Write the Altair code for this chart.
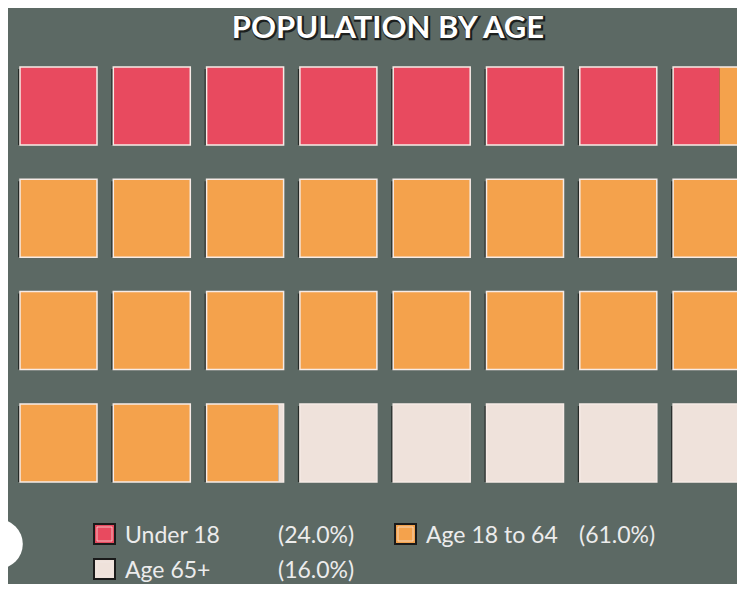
import altair as alt
import pandas as pd

# ---------------- data ----------------
TITLE = "POPULATION BY AGE"
categories = ["Under 18", "Age 18 to 64", "Age 65+"]
percents = [24.0, 61.0, 16.0]
colors = ["#e84a5f", "#f4a24c", "#efe2db"]

N_COLS = 8
N_ROWS = 4
N = N_COLS * N_ROWS

# ---------------- layout ----------------
W, H = 729, 576
PITCH_X, PITCH_Y = 93.3, 112.3
SQ_W, SQ_H = 77.0, 78.0
LEFT, TOP = 12.0, 59.0
fx = SQ_W / PITCH_X
fy = SQ_H / PITCH_Y

total = sum(percents)
bounds = []
acc = 0.0
for p in percents:
    a = acc
    acc += p / total * N
    bounds.append((a, acc))

seg_rows, sq_rows = [], []
for k in range(N):
    r, c = divmod(k, N_COLS)
    sq_rows.append(dict(x=c, x2=c + fx, y=r, y2=r + fy))
    for cat, (a, b) in zip(categories, bounds):
        lo, hi = max(a, k), min(b, k + 1)
        if hi > lo:
            seg_rows.append(dict(cat=cat, x=c + (lo - k) * fx, x2=c + (hi - k) * fx,
                                 y=r, y2=r + fy))
sq = pd.DataFrame(sq_rows)
seg = pd.DataFrame(seg_rows)

xs = alt.Scale(domain=[-LEFT / PITCH_X, (W - LEFT) / PITCH_X], nice=False, zero=False)
ys = alt.Scale(domain=[-TOP / PITCH_Y, (H - TOP) / PITCH_Y], nice=False, zero=False, reverse=True)
cs = alt.Scale(domain=categories, range=colors)

def enc(ch):
    return ch.encode(
        x=alt.X("x:Q", scale=xs, axis=None), x2="x2:Q",
        y=alt.Y("y:Q", scale=ys, axis=None), y2="y2:Q",
    )

shadow = enc(alt.Chart(sq).mark_rect(color="#262b28", xOffset=-2, yOffset=2, clip=True))
fill = enc(alt.Chart(seg).mark_rect(clip=True)).encode(
    color=alt.Color("cat:N", scale=cs, legend=None))
outline = enc(alt.Chart(sq).mark_rect(filled=False, stroke="#f6ebe6", strokeWidth=1.5, clip=True))

# ---------------- title ----------------
tdf = pd.DataFrame({"t": [TITLE]})
title_sh = alt.Chart(tdf).mark_text(font="Lato", fontSize=31, fontWeight="bold", color="#1c201e",
                                    stroke="#1c201e", strokeWidth=2.5, align="center",
                                    baseline="alphabetic", dx=1, dy=1).encode(
    x=alt.value(380), y=alt.value(30), text="t:N")
title = alt.Chart(tdf).mark_text(font="Lato", fontSize=31, fontWeight="bold", color="#ffffff",
                                 align="center", baseline="alphabetic").encode(
    x=alt.value(380), y=alt.value(30), text="t:N")

# ---------------- legend ----------------
leg_rows = []
for i, (cat, p, col) in enumerate(zip(categories, percents, colors)):
    cc, rr = i % 2, i // 2
    mx = 86 + 301 * cc
    my = 516 + 35 * rr
    leg_rows.append(dict(cat=cat, pct=f"({p:.1f}%)", mx=mx, mx2=mx + 21, my=my, my2=my + 20,
                         ix=mx + 3, ix2=mx + 18, iy=my + 3, iy2=my + 17,
                         lx=mx + 31, px=mx + 184, ty=my + 19))
leg = pd.DataFrame(leg_rows)

leg_box = alt.Chart(leg).mark_rect(stroke="#1a1a1a", strokeWidth=2).encode(
    x=alt.X("mx:Q", scale=None, axis=None), x2="mx2:Q",
    y=alt.Y("my:Q", scale=None, axis=None), y2="my2:Q",
    color=alt.Color("cat:N", scale=cs, legend=None))
leg_inner = alt.Chart(leg).mark_rect(filled=False, stroke="#f4e8e4", strokeWidth=1, opacity=0.7).encode(
    x=alt.X("ix:Q", scale=None, axis=None), x2="ix2:Q",
    y=alt.Y("iy:Q", scale=None, axis=None), y2="iy2:Q")
leg_lab = alt.Chart(leg).mark_text(font="Lato", fontSize=23, color="#ececec", align="left",
                                   baseline="alphabetic").encode(
    x=alt.X("lx:Q", scale=None, axis=None), y=alt.Y("ty:Q", scale=None, axis=None), text="cat:N")
leg_pct = alt.Chart(leg).mark_text(font="Lato", fontSize=23, color="#ececec", align="left",
                                   baseline="alphabetic").encode(
    x=alt.X("px:Q", scale=None, axis=None), y=alt.Y("ty:Q", scale=None, axis=None), text="pct:N")

# decorative white circle at left edge
circ = alt.Chart(tdf).mark_point(shape="circle", filled=True, color="white", opacity=1,
                                 size=2460, strokeWidth=0).encode(
    x=alt.value(-10), y=alt.value(536))

chart = alt.layer(shadow, fill, outline, title_sh, title, leg_box, leg_inner, leg_lab, leg_pct, circ
).resolve_scale(x="independent", y="independent").properties(
    width=W, height=H, padding=0, autosize=alt.AutoSizeParams(type="none"),
    background="#5c6964"
).configure_view(stroke=None)

chart.save("out.html", embed_options={"renderer": "svg", "actions": False})
